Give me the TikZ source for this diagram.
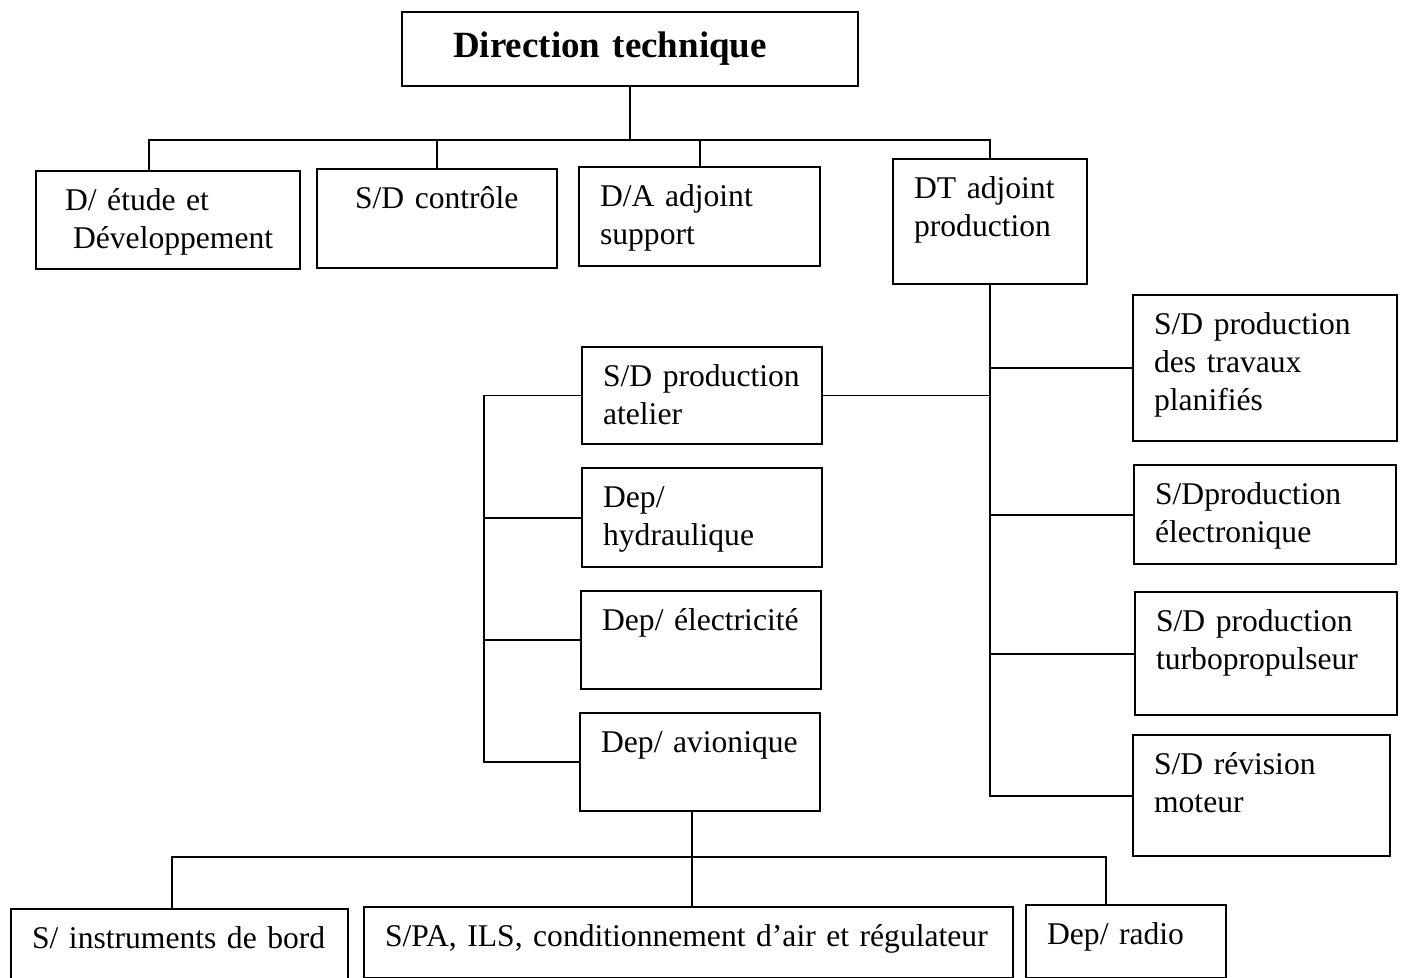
\documentclass[tikz,border=0pt]{standalone}
\usepackage{fontspec}
\setmainfont{Liberation Serif}

\begin{document}
\begin{tikzpicture}[x=0.5pt,y=-0.5pt]
		\tikzset{unit/.style={draw, line width=1.1pt, anchor=north west, align=left,
				font=\fontsize{15.8}{19}\selectfont, inner xsep=10.5pt, inner ysep=8.6pt,
				text height=11pt}}
		\tikzset{head/.style={draw, line width=1.1pt, anchor=north west, align=left,
				font=\bfseries\fontsize{18.5}{22}\selectfont, inner xsep=25.5pt,
				text width=177pt, minimum height=37pt}}
		\tikzset{link/.style={line width=0.9pt}}
		\useasboundingbox (0,0) rectangle (1403,978);
		% top
		\node[head] (dt) at (401,11) {Direction technique};
		\node[unit, text width=111pt, text depth=20.8pt] (etude) at (35,170) {\hspace*{4pt}D/ étude et\\\hspace*{8pt}Développement};
		\node[unit, text width=99pt, text depth=21.3pt] (controle) at (316,168) {\hspace*{8.5pt}S/D contrôle};
		\node[unit, text width=99.5pt, text depth=21.3pt] (support) at (578,166) {D/A adjoint\\support};
		\node[unit, text width=76pt, text depth=34.3pt] (adjprod) at (892,158) {DT adjoint\\production};
		% left column
		\node[unit, text width=99pt, text depth=20.3pt] (atelier) at (581,346) {S/D production\\atelier};
		\node[unit, text width=99pt, text depth=21.3pt] (hydrau) at (581,467) {Dep/\\hydraulique};
		\node[unit, text width=99pt, text depth=20.8pt] (elec) at (580,590) {Dep/ électricité};
		\node[unit, text width=99pt, text depth=20.8pt] (avion) at (579,712) {Dep/ avionique};
		% right column
		\node[unit, text width=111pt, text depth=44.8pt] (travaux) at (1132,294) {S/D production\\des travaux\\planifiés};
		\node[unit, text width=110pt, text depth=21.3pt] (electro) at (1133,464) {S/Dproduction\\électronique};
		\node[unit, text width=110pt, text depth=33.3pt] (turbo) at (1134,591) {S/D production\\turbopropulseur};
		\node[unit, text width=107.5pt, text depth=32.3pt] (revision) at (1132,734) {S/D révision\\moteur};
		% bottom
		\node[unit, text width=147.5pt, text depth=17.8pt] (instr) at (10,908) {S/ instruments de bord};
		\node[unit, text width=303.5pt, text depth=7.3pt] (spa) at (363,906) {S/PA, ILS, conditionnement d’air et régulateur};
		\node[unit, text width=79pt, text depth=8.3pt] (radio) at (1025,904) {Dep/ radio};

		\coordinate (b1l) at (149,140);
		\coordinate (b2l) at (172,857);
		\coordinate (b2c) at (692,857);
		\coordinate (b2r) at (1106,857);
		\draw[link] (dt.south) -- (dt.south |- b1l);
		\draw[link] (etude.north -| b1l) |- (adjprod.north |- b1l) -- (adjprod.north);
		\draw[link] (controle.north) -- (controle.north |- b1l);
		\draw[link] (support.north) -- (support.north |- b1l);
		\draw[link] (adjprod.south) |- (revision.west);
		\draw[link] (atelier.east) -- (atelier.east -| adjprod.south);
		\draw[link] (travaux.west) -- (travaux.west -| adjprod.south);
		\draw[link] (electro.west) -- (electro.west -| adjprod.south);
		\draw[link] (turbo.west) -- (turbo.west -| adjprod.south);
		\draw[link] (atelier.west) -- ++(-97,0) |- (avion.west);
		\draw[link] (hydrau.west) -- ++(-97,0);
		\draw[link] (elec.west) -- ++(-96,0);
		\draw[link] (avion.south -| b2c) -- (spa.north -| b2c);
		\draw[link] (instr.north -| b2l) |- (b2r) -- (radio.north -| b2r);
\end{tikzpicture}
\end{document}
